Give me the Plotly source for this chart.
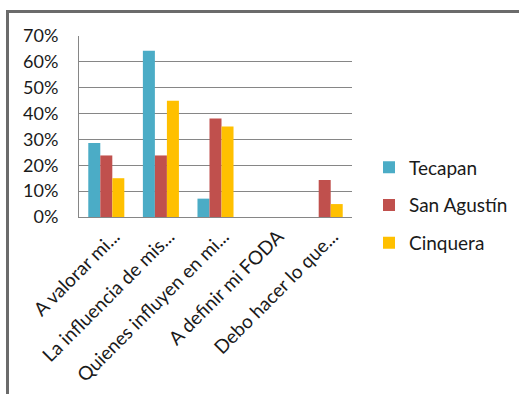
import plotly.graph_objects as go

categories = [
    "A valorar mi...",
    "La influencia de mis...",
    "Quienes influyen en mi...",
    "A definir mi FODA",
    "Debo hacer lo que...",
]
tecapan = [0.286, 0.643, 0.071, None, None]
san_agustin = [0.238, 0.238, 0.381, None, 0.143]
cinquera = [0.15, 0.45, 0.35, None, 0.05]

series = [
    ("Tecapan", tecapan, "#4BACC6"),
    ("San Agustín", san_agustin, "#C0504D"),
    ("Cinquera", cinquera, "#FFC000"),
]

W, H = 519, 394
L, R, T, B = 79, 167, 36, 177
pw, ph = W - L - R, H - T - B

def px_x(x):
    return (x - L) / pw

def px_y(y):
    return (H - B - y) / ph

FONT = "Lato, 'Open Sans', sans-serif"

fig = go.Figure()
for i, (name, vals, color) in enumerate(series):
    fig.add_trace(go.Bar(
        name=name, x=categories, y=vals,
        marker=dict(color=color, line=dict(width=0)),
        legendgroup=str(i),
    ))

frame_color = "#6b6b6b"
fig.add_shape(type="line", xref="paper", yref="paper",
              x0=px_x(7.5), x1=px_x(540), y0=px_y(11.5), y1=px_y(11.5),
              line=dict(color=frame_color, width=3))
fig.add_shape(type="line", xref="paper", yref="paper",
              x0=px_x(7.5), x1=px_x(7.5), y0=px_y(10), y1=px_y(420),
              line=dict(color=frame_color, width=3))

fig.update_layout(
    width=W, height=H,
    margin=dict(l=L, r=R, t=T, b=B, autoexpand=False),
    paper_bgcolor="white", plot_bgcolor="white",
    barmode="group", bargap=0.34, bargroupgap=0,
    font=dict(family=FONT, size=17, color="#1a1a1a"),
    showlegend=True,
    legend=dict(
        x=px_x(369), xanchor="left",
        y=px_y(205.5), yanchor="middle",
        font=dict(size=19, color="#1a1a1a"),
        tracegroupgap=10,
        bgcolor="rgba(0,0,0,0)",
    ),
    xaxis=dict(
        showline=True, linecolor="#868686", linewidth=1,
        showgrid=False, ticks="", tickangle=-45,
        tickfont=dict(size=19),
        ticklabelstandoff=0,
        ticklabelshift=8,
        automargin=False,
        fixedrange=True,
    ),
    yaxis=dict(
        range=[0, 0.7], dtick=0.1, tickformat=".0%",
        showline=True, linecolor="#868686", linewidth=1,
        showgrid=True, gridcolor="#868686", gridwidth=1,
        zeroline=False, ticks="",
        tickfont=dict(size=18),
        ticklabelstandoff=16,
        automargin=False,
        fixedrange=True,
    ),
)

fig.write_html("out.html")
